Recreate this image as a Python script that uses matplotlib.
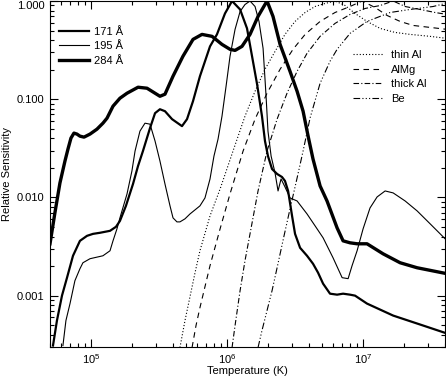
import numpy as np
import matplotlib
matplotlib.use("Agg")
import matplotlib.pyplot as plt
from matplotlib.lines import Line2D
from matplotlib.ticker import FuncFormatter, LogLocator

plt.rcParams['font.family'] = ['Liberation Sans', 'DejaVu Sans']
plt.rcParams['mathtext.default'] = 'regular'

# log10 temperature (K) and log10 relative sensitivity
t171 = [4.721, 4.750, 4.787, 4.824, 4.868, 4.919, 4.971, 5.015, 5.066, 5.140, 5.184, 5.213,
        5.257, 5.309, 5.346, 5.382, 5.434, 5.471, 5.507, 5.544, 5.596, 5.669, 5.706, 5.750,
        5.801, 5.875, 5.926, 5.985, 6.037, 6.096, 6.147, 6.184, 6.221, 6.257, 6.279, 6.301,
        6.331, 6.368, 6.404, 6.426, 6.449, 6.478, 6.500, 6.537, 6.588, 6.632, 6.669, 6.706,
        6.757, 6.809, 6.853, 6.904, 6.941, 7.029, 7.125, 7.221, 7.419, 7.618]
s171 = [-3.508, -3.254, -3.000, -2.817, -2.594, -2.442, -2.391, -2.371, -2.360, -2.340, -2.299, -2.239,
        -2.086, -1.863, -1.680, -1.528, -1.294, -1.142, -1.102, -1.122, -1.203, -1.274, -1.203, -1.020,
        -0.766, -0.462, -0.340, -0.127, 0.000, -0.086, -0.279, -0.563, -0.848, -1.173, -1.426, -1.579,
        -1.711, -1.761, -1.792, -1.832, -1.934, -2.188, -2.371, -2.513, -2.594, -2.675, -2.766, -2.878,
        -2.980, -2.990, -2.980, -2.990, -3.000, -3.081, -3.142, -3.203, -3.294, -3.386]

t195 = [4.794, 4.816, 4.846, 4.882, 4.919, 4.941, 4.993, 5.088, 5.140, 5.162, 5.191, 5.213,
        5.265, 5.301, 5.324, 5.360, 5.397, 5.434, 5.471, 5.507, 5.544, 5.581, 5.603, 5.632,
        5.654, 5.691, 5.728, 5.801, 5.838, 5.875, 5.904, 5.934, 5.963, 5.993, 6.022, 6.059,
        6.096, 6.132, 6.169, 6.206, 6.235, 6.265, 6.287, 6.301, 6.324, 6.353, 6.375, 6.397,
        6.426, 6.463, 6.515, 6.588, 6.647, 6.706, 6.779, 6.846, 6.890, 6.919, 6.956, 7.000,
        7.051, 7.103, 7.162, 7.221, 7.309, 7.397, 7.493, 7.618]
s195 = [-3.508, -3.254, -3.081, -2.848, -2.726, -2.665, -2.624, -2.594, -2.543, -2.442, -2.320, -2.208,
        -1.964, -1.731, -1.528, -1.325, -1.244, -1.254, -1.426, -1.629, -1.863, -2.086, -2.208, -2.249,
        -2.249, -2.218, -2.168, -2.086, -2.005, -1.812, -1.579, -1.406, -1.173, -0.868, -0.563, -0.289,
        -0.107, -0.036, 0.000, -0.056, -0.208, -0.482, -0.970, -1.325, -1.579, -1.751, -1.934, -1.812,
        -1.893, -2.005, -2.036, -2.168, -2.289, -2.411, -2.614, -2.817, -2.827, -2.695, -2.543, -2.320,
        -2.107, -1.995, -1.934, -1.954, -2.036, -2.137, -2.269, -2.442]

t284 = [4.699, 4.735, 4.772, 4.809, 4.831, 4.853, 4.875, 4.897, 4.919, 4.949, 4.993, 5.044,
        5.088, 5.118, 5.162, 5.213, 5.265, 5.346, 5.412, 5.471, 5.507, 5.544, 5.603, 5.676,
        5.750, 5.816, 5.890, 5.963, 6.022, 6.059, 6.110, 6.169, 6.228, 6.294, 6.338, 6.390,
        6.463, 6.515, 6.559, 6.596, 6.632, 6.684, 6.735, 6.809, 6.853, 6.904, 6.956, 7.029,
        7.147, 7.272, 7.397, 7.618]
s284 = [-2.472, -2.157, -1.853, -1.629, -1.508, -1.396, -1.345, -1.355, -1.376, -1.386, -1.355, -1.305,
        -1.244, -1.193, -1.071, -0.990, -0.939, -0.878, -0.888, -0.939, -0.970, -0.949, -0.766, -0.563,
        -0.391, -0.340, -0.360, -0.442, -0.492, -0.503, -0.462, -0.340, -0.157, 0.000, -0.157, -0.442,
        -0.716, -0.919, -1.122, -1.376, -1.609, -1.883, -2.036, -2.310, -2.442, -2.462, -2.472, -2.472,
        -2.574, -2.665, -2.716, -2.777]

# filter curves
t_thinal = [5.654, 5.691, 5.728, 5.765, 5.801, 5.875, 5.949, 6.044, 6.132, 6.206, 6.279, 6.353,
            6.426, 6.500, 6.574, 6.647, 6.721, 6.794, 6.868, 6.941, 7.029, 7.125, 7.235, 7.346,
            7.493, 7.618]
s_thinal = [-3.528, -3.254, -3.010, -2.766, -2.543, -2.188, -1.914, -1.528, -1.173, -0.919, -0.695, -0.513,
            -0.340, -0.208, -0.117, -0.056, -0.025, 0.000, -0.046, -0.127, -0.208, -0.279, -0.320, -0.340,
            -0.360, -0.381]

t_almg = [5.743, 5.772, 5.801, 5.875, 5.949, 6.022, 6.118, 6.206, 6.294, 6.390, 6.485, 6.574,
          6.684, 6.794, 6.904, 6.993, 7.088, 7.176, 7.272, 7.368, 7.493, 7.618]
s_almg = [-3.528, -3.305, -3.122, -2.695, -2.320, -1.964, -1.528, -1.203, -0.939, -0.695, -0.492, -0.340,
          -0.208, -0.117, -0.056, 0.000, -0.066, -0.147, -0.208, -0.249, -0.269, -0.289]

t_thickal = [6.037, 6.059, 6.096, 6.132, 6.169, 6.228, 6.294, 6.368, 6.441, 6.515, 6.588, 6.684,
             6.794, 6.904, 7.015, 7.125, 7.221, 7.309, 7.419, 7.529, 7.618]
s_thickal = [-3.528, -3.305, -2.949, -2.645, -2.371, -1.934, -1.528, -1.203, -0.939, -0.716, -0.533, -0.360,
             -0.228, -0.137, -0.076, -0.046, 0.000, -0.056, -0.086, -0.117, -0.137]

t_be = [6.228, 6.257, 6.294, 6.331, 6.368, 6.419, 6.463, 6.515, 6.559, 6.610, 6.684, 6.757,
        6.809, 6.904, 7.029, 7.199, 7.346, 7.515, 7.618]
s_be = [-3.528, -3.355, -3.152, -2.949, -2.716, -2.391, -2.117, -1.802, -1.528, -1.193, -0.838, -0.614,
        -0.492, -0.330, -0.208, -0.117, -0.086, -0.056, -0.020]

band_labels = ['171 Å', '195 Å', '284 Å']
filter_labels = ['thin Al', 'AlMg', 'thick Al', 'Be']

fig = plt.figure(figsize=(4.46, 3.76), dpi=100)
ax = fig.add_axes([50/446, 29/376, 395/446, 346/376])

def p(t, s):
    return 10**np.array(t), 10**np.array(s)

lw_band = [1.6, 0.8, 2.4]
band_data = [(t171, s171), (t195, s195), (t284, s284)]
band_handles = []
for (t, s), lw in zip(band_data, lw_band):
    x, y = p(t, s)
    ax.plot(x, y, color='black', lw=lw, solid_joinstyle='round')
    band_handles.append(Line2D([], [], color='black', lw=lw))

styles = [(0, (1, 1.8)), (0, (5, 4)), (0, (5, 2, 1, 2)), (0, (6, 2, 1, 2, 1, 2, 1, 2))]
filt_data = [(t_thinal, s_thinal), (t_almg, s_almg), (t_thickal, s_thickal), (t_be, s_be)]
filt_handles = []
for (t, s), ls in zip(filt_data, styles):
    x, y = p(t, s)
    ax.plot(x, y, color='black', lw=0.8, linestyle=ls)
    filt_handles.append(Line2D([], [], color='black', lw=0.8, linestyle=ls))

ax.set_xscale('log')
ax.set_yscale('log')
ax.set_xlim(5e4, 4e7)
ax.set_ylim(3e-4, 1.0)

ax.xaxis.set_major_locator(LogLocator(base=10))
ax.xaxis.set_minor_locator(LogLocator(base=10, subs=np.arange(2, 10)))
ax.yaxis.set_major_locator(LogLocator(base=10))
ax.yaxis.set_minor_locator(LogLocator(base=10, subs=np.arange(2, 10)))
ax.yaxis.set_major_formatter(FuncFormatter(lambda v, pos: '%.3f' % v))
ax.xaxis.set_major_formatter(FuncFormatter(lambda v, pos: '$10^{%d}$' % round(np.log10(v))))
ax.xaxis.set_minor_formatter(FuncFormatter(lambda v, pos: ''))
ax.yaxis.set_minor_formatter(FuncFormatter(lambda v, pos: ''))

ax.tick_params(which='both', direction='in', top=True, right=True, width=0.8,
               labelsize=8, colors='black')
ax.tick_params(which='major', length=6, pad=4)
ax.tick_params(which='minor', length=3)
for sp in ax.spines.values():
    sp.set_linewidth(0.8)

ax.set_xlabel('Temperature (K)', fontsize=8)
ax.set_ylabel('Relative Sensitivity', fontsize=8)
ax.xaxis.set_label_coords(0.5, -0.055)
ax.yaxis.set_label_coords(-0.095, 0.5)

leg1 = ax.legend(band_handles, band_labels, loc='upper left', bbox_to_anchor=(0.023, 0.926),
                 frameon=False, fontsize=8, handlelength=2.7, handletextpad=0.45,
                 labelspacing=0.43, borderpad=0, borderaxespad=0)
ax.add_artist(leg1)
ax.legend(filt_handles, filter_labels, loc='upper left', bbox_to_anchor=(0.767, 0.859),
          frameon=False, fontsize=8, handlelength=2.7, handletextpad=0.7,
          labelspacing=0.43, borderpad=0, borderaxespad=0)

# keep the top y tick label inside the figure, as in the original
fig.canvas.draw()
for lab in ax.get_yticklabels():
    if lab.get_text() == '1.000':
        lab.set_va('top')

fig.savefig('out.png', dpi=100)
